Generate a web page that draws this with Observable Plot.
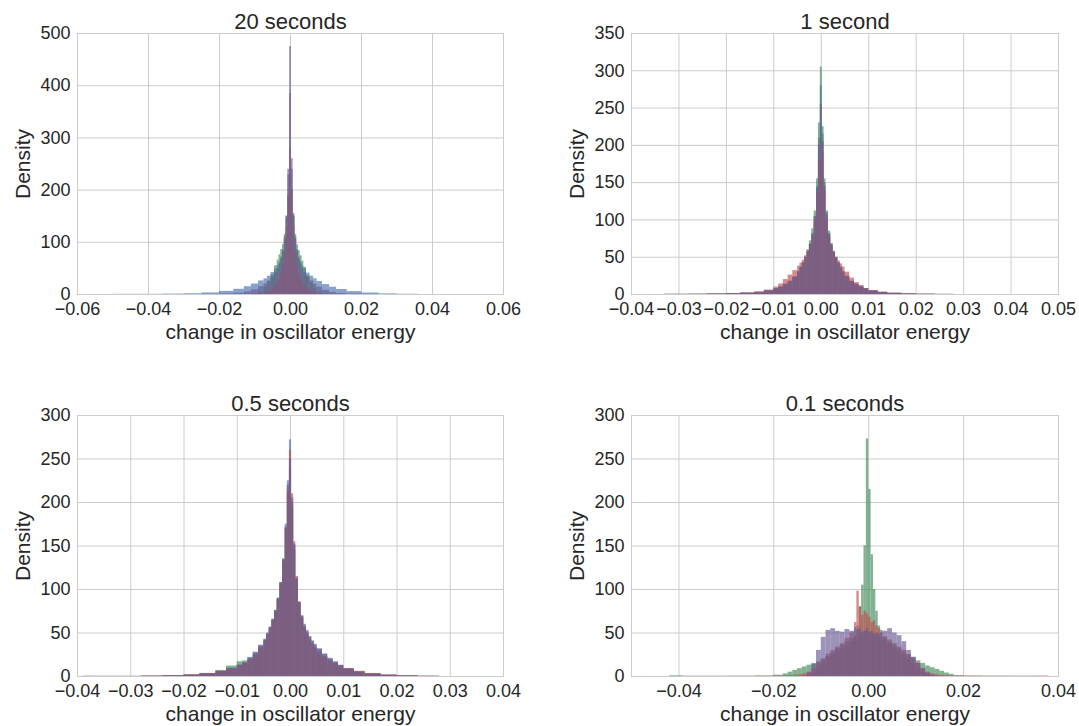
<!DOCTYPE html>
<html><head><meta charset="utf-8">
<script src="https://cdn.jsdelivr.net/npm/d3@7"></script>
<script src="https://cdn.jsdelivr.net/npm/@observablehq/plot@0.6"></script>
<style>
body{margin:0;background:#fff;}
#root{position:relative;width:1079px;height:726px;overflow:hidden;font-family:"Liberation Sans",Arial,sans-serif;}
.panel{position:absolute;}
</style></head><body><div id="root"></div>
<script>
// ---- series / colours ----
const seriesNames = ["blue", "green", "red", "purple"];
const seriesColors = ["#4C72B0", "#3f8a58", "#C44E52", "#6a5b95"];
const titles = ["20 seconds", "1 second", "0.5 seconds", "0.1 seconds"];
const xLabel = "change in oscillator energy";
const yLabel = "Density";

// ---- tick values ----
const xTicks20 = [-0.06, -0.04, -0.02, 0, 0.02, 0.04, 0.06];
const xTicks1 = [-0.04, -0.03, -0.02, -0.01, 0, 0.01, 0.02, 0.03, 0.04, 0.05];
const xTicks05 = [-0.04, -0.03, -0.02, -0.01, 0, 0.01, 0.02, 0.03, 0.04];
const xTicks01 = [-0.04, -0.02, 0, 0.02, 0.04];
const yTicks20 = [0, 100, 200, 300, 400, 500];
const yTicks1 = [0, 50, 100, 150, 200, 250, 300, 350];
const yTicks05 = [0, 50, 100, 150, 200, 250, 300];
const yTicks01 = [0, 50, 100, 150, 200, 250, 300];

// ---- 20 seconds: bin edges and densities ----
const edges20 = [-0.05, -0.036, -0.030, -0.025, -0.020, -0.016, -0.013, -0.011, -0.009, -0.0075, -0.0065, -0.0055, -0.0045, -0.00375, -0.00325, -0.00275, -0.00225, -0.00175, -0.00125, -0.00075, -0.00025, 0.00025, 0.00075, 0.00125, 0.00175, 0.00225, 0.00275, 0.00325, 0.00375, 0.0045, 0.0055, 0.0065, 0.0075, 0.009, 0.011, 0.013, 0.016, 0.020, 0.025, 0.030, 0.036];
const blue20 = [0.3, 0.8, 1.5, 3, 6, 10, 15, 20, 26, 30, 35, 42, 49, 55, 62, 72, 85, 110, 150, 230, 385, 240, 150, 110, 86, 72, 62, 55, 49, 41, 35, 30, 25, 19, 14, 9.5, 5.5, 2.8, 1.2, 0.5];
const green20 = [0, 0, 0, 0, 0, 0, 0.5, 1.5, 5, 14, 24, 38, 55, 66, 76, 86, 96, 115, 145, 190, 230, 200, 150, 115, 95, 84, 74, 64, 52, 36, 22, 12, 4, 1.2, 0.4, 0, 0, 0, 0, 0];
const red20 = [0, 0, 0, 0, 0, 0, 0, 0, 0.5, 3, 6, 11, 18, 24, 30, 40, 55, 80, 130, 190, 280, 200, 130, 80, 55, 40, 30, 24, 18, 11, 6, 2.5, 0.5, 0, 0, 0, 0, 0, 0, 0];
const purple20 = [0, 0, 0, 0.3, 1, 2.5, 5, 9, 15, 20, 26, 33, 42, 50, 58, 68, 82, 106, 150, 240, 475, 260, 155, 106, 82, 68, 58, 50, 42, 33, 26, 20, 14, 8, 4, 2, 0.8, 0.3, 0, 0];

// ---- 1 second ----
const edges1 = [-0.033, -0.028, -0.024, -0.020, -0.017, -0.014, -0.012, -0.010, -0.009, -0.008, -0.007, -0.006, -0.005, -0.0045, -0.004, -0.0035, -0.003, -0.0025, -0.002, -0.0015, -0.001, -0.0006, -0.0002, 0.0002, 0.0006, 0.001, 0.0015, 0.002, 0.0025, 0.003, 0.0035, 0.004, 0.0045, 0.005, 0.006, 0.007, 0.008, 0.009, 0.010, 0.012, 0.014, 0.017, 0.020, 0.024, 0.028];
const blue1 = [0.2, 0.3, 0.6, 1.0, 1.8, 3, 5, 8, 10, 14, 18, 24, 31, 37, 43, 50, 58, 68, 82, 105, 145, 210, 280, 215, 150, 110, 82, 68, 58, 50, 43, 37, 31, 25, 18, 14, 11, 8, 5, 3, 1.6, 0.8, 0.4, 0.1];
const green1 = [0.3, 0.2, 0.5, 0.9, 1.6, 2.8, 4.5, 7, 9.5, 13, 17, 23, 30, 36, 42, 50, 60, 72, 88, 112, 155, 230, 305, 225, 155, 112, 85, 68, 57, 48, 41, 35, 29, 23, 17, 13, 10, 7, 4.5, 2.5, 1.4, 0.7, 0.3, 0.1];
const red1 = [0.1, 0.4, 0.8, 1.2, 2.2, 3.5, 6, 10, 14, 20, 26, 32, 38, 42, 46, 52, 58, 66, 78, 98, 135, 180, 207, 190, 140, 100, 78, 65, 56, 50, 45, 41, 37, 30, 22, 16, 12, 8, 5, 3, 1.8, 0.9, 0.4, 0.2];
const purple1 = [0.2, 0.3, 0.5, 0.9, 1.7, 2.8, 4.8, 7.5, 10, 13.5, 17.5, 23, 30, 36, 42, 49, 57, 67, 80, 104, 142, 200, 255, 205, 145, 106, 80, 66, 56, 48, 42, 36, 30, 24, 17, 13, 10, 7.5, 4.8, 2.8, 1.5, 0.7, 0.3, 0.1];

// ---- 0.5 seconds ----
const edges05 = [-0.039, -0.037, -0.028, -0.024, -0.020, -0.017, -0.014, -0.012, -0.010, -0.009, -0.008, -0.007, -0.006, -0.005, -0.0045, -0.004, -0.0035, -0.003, -0.0025, -0.002, -0.0015, -0.001, -0.0006, -0.0002, 0.0002, 0.0006, 0.001, 0.0015, 0.002, 0.0025, 0.003, 0.0035, 0.004, 0.0045, 0.005, 0.006, 0.007, 0.008, 0.009, 0.010, 0.012, 0.014, 0.017, 0.020, 0.024, 0.028];
const blue05 = [0.3, 0, 0.3, 0.8, 1.5, 3, 5.5, 9, 13, 15, 22, 28, 36, 43, 50, 57, 66, 76, 90, 108, 135, 175, 225, 272, 200, 150, 112, 85, 70, 60, 53, 46, 41, 37, 32, 26, 21, 17, 13, 9, 5.5, 3, 1.5, 0.7, 0.2];
const green05 = [0, 0.2, 0.4, 0.9, 1.6, 3.5, 7, 12, 17, 18, 20, 25, 33, 41, 48, 56, 65, 76, 90, 108, 135, 170, 210, 240, 195, 145, 108, 82, 66, 56, 48, 42, 37, 33, 28, 23, 19, 15, 12, 8.5, 5, 2.8, 1.3, 0.6, 0.2];
const red05 = [0, 0.1, 0.5, 1, 2, 3.5, 6, 9, 12, 15, 19, 25, 33, 40, 47, 55, 64, 75, 88, 106, 132, 170, 215, 260, 210, 155, 115, 86, 68, 57, 49, 42, 37, 33, 28, 22, 18, 15, 12, 9, 6, 3.5, 1.8, 0.9, 0.3];
const purple05 = [0.2, 0.1, 0.3, 0.8, 1.6, 3.2, 5.8, 9.5, 13, 16, 21, 27, 35, 42, 49, 56, 65, 75, 89, 107, 133, 172, 220, 250, 205, 152, 113, 85, 69, 58, 51, 45, 40, 36, 31, 25, 20, 16, 12.5, 8.5, 5, 2.8, 1.4, 0.6, 0.2];

// ---- 0.1 seconds ----
const edges01 = [-0.042, -0.039, -0.030, -0.024, -0.020, -0.018, -0.017, -0.016, -0.015, -0.014, -0.013, -0.012, -0.011, -0.010, -0.009, -0.008, -0.007, -0.006, -0.005, -0.004, -0.003, -0.0025, -0.002, -0.0015, -0.001, -0.0005, 0, 0.0005, 0.001, 0.0015, 0.002, 0.0025, 0.003, 0.004, 0.005, 0.006, 0.007, 0.008, 0.009, 0.010, 0.011, 0.012, 0.013, 0.014, 0.015, 0.016, 0.017, 0.018, 0.020, 0.024, 0.030, 0.035, 0.038];
const blue01 = [0, 0, 0, 0, 0, 0, 0, 0, 0, 0, 1, 4, 10, 16, 22, 27, 32, 36, 40, 44, 47, 49, 50, 51, 52, 52, 51, 50, 49, 48, 46, 44, 41, 37, 33, 29, 25, 20, 15, 10, 5, 2, 0.5, 0, 0, 0, 0, 0, 0, 0, 0, 0];
const green01 = [0.8, 0.2, 0.3, 0.6, 1.5, 3, 5, 7, 9, 11, 13, 15, 17, 20, 23, 26, 29, 32, 35, 40, 46, 58, 80, 105, 150, 273, 215, 140, 100, 75, 58, 50, 44, 40, 36, 32, 28, 25, 22, 18, 15, 12, 10, 8, 6, 4, 2.5, 1, 0.5, 0.3, 0.2, 0.1];
const red01 = [0, 0.2, 0.2, 0.3, 0.5, 0.8, 1, 1.5, 2, 3, 5, 9, 15, 20, 26, 30, 34, 38, 44, 50, 62, 98, 80, 70, 75, 72, 68, 62, 64, 58, 55, 50, 46, 42, 38, 34, 30, 25, 20, 15, 9, 5, 3, 2, 1.5, 1, 0.8, 0.5, 0.4, 0.3, 0.3, 0.5];
const purple01 = [0, 0, 0, 0, 0, 0, 0, 0, 0, 0.5, 4, 14, 30, 45, 53, 55, 52, 51, 54, 52, 56, 54, 55, 50, 52, 55, 50, 52, 48, 50, 49, 53, 52, 55, 50, 47, 40, 30, 22, 15, 9, 4, 1.5, 0.5, 0, 0, 0, 0, 0, 0, 0, 0];

const TEXT = "#262626";
const GRID = "#cccccc";
const fmt = d3.format(".2f");

function binsOf(edges, values, name) {
  return values.map((v, i) => ({x1: edges[i], x2: edges[i + 1], y: v, s: name}));
}

function makePanel(cfg) {
  const marks = [
    Plot.gridX({ticks: cfg.xTicks, stroke: GRID, strokeOpacity: 1, strokeWidth: 1}),
    Plot.gridY({ticks: cfg.yTicks, stroke: GRID, strokeOpacity: 1, strokeWidth: 1})
  ];
  cfg.series.forEach((vals, k) => {
    marks.push(Plot.rect(binsOf(cfg.edges, vals, seriesNames[k]), {
      x1: "x1", x2: "x2", y1: () => 0, y2: "y",
      fill: seriesColors[k], fillOpacity: 0.66
    }));
  });
  marks.push(
    Plot.frame({stroke: GRID, strokeWidth: 1}),
    Plot.axisX({ticks: cfg.xTicks, tickSize: 0, tickPadding: 8, tickFormat: fmt, label: null}),
    Plot.axisY({ticks: cfg.yTicks, tickSize: 0, tickPadding: 7, label: null}),
    Plot.text([cfg.title], {text: d => d, frameAnchor: "top", dy: -5, lineAnchor: "bottom", fontSize: 22, fill: TEXT}),
    Plot.text([xLabel], {text: d => d, frameAnchor: "bottom", dy: 44, lineAnchor: "bottom", fontSize: 21, fill: TEXT}),
    Plot.text([yLabel], {text: d => d, frameAnchor: "left", dx: -48, rotate: -90, textAnchor: "middle", lineAnchor: "bottom", fontSize: 21, fill: TEXT})
  );
  const svg = Plot.plot({
    width: cfg.width, height: cfg.height,
    marginLeft: cfg.ml, marginRight: cfg.mr, marginTop: cfg.mt, marginBottom: cfg.mb,
    x: {domain: cfg.xDomain},
    y: {domain: cfg.yDomain},
    style: {fontFamily: '"Liberation Sans", Arial, sans-serif', fontSize: "18px", color: TEXT, background: "transparent", overflow: "visible"},
    marks
  });
  svg.classList.add("panel");
  svg.style.left = cfg.left + "px";
  svg.style.top = cfg.top + "px";
  document.getElementById("root").appendChild(svg);
}

makePanel({title: titles[0], edges: edges20, series: [blue20, green20, red20, purple20],
  xDomain: [-0.06, 0.06], yDomain: [0, 500], xTicks: xTicks20, yTicks: yTicks20,
  left: 0, top: 0, width: 540, height: 381, ml: 77, mr: 37, mt: 33, mb: 87});
makePanel({title: titles[1], edges: edges1, series: [blue1, green1, red1, purple1],
  xDomain: [-0.04, 0.05], yDomain: [0, 350], xTicks: xTicks1, yTicks: yTicks1,
  left: 540, top: 0, width: 539, height: 381, ml: 91, mr: 21, mt: 33, mb: 87});
makePanel({title: titles[2], edges: edges05, series: [blue05, green05, red05, purple05],
  xDomain: [-0.04, 0.04], yDomain: [0, 300], xTicks: xTicks05, yTicks: yTicks05,
  left: 0, top: 381, width: 540, height: 345, ml: 77, mr: 37, mt: 34, mb: 50});
makePanel({title: titles[3], edges: edges01, series: [blue01, green01, red01, purple01],
  xDomain: [-0.05, 0.04], yDomain: [0, 300], xTicks: xTicks01, yTicks: yTicks01,
  left: 540, top: 381, width: 539, height: 345, ml: 91, mr: 21, mt: 34, mb: 50});
</script></body></html>
